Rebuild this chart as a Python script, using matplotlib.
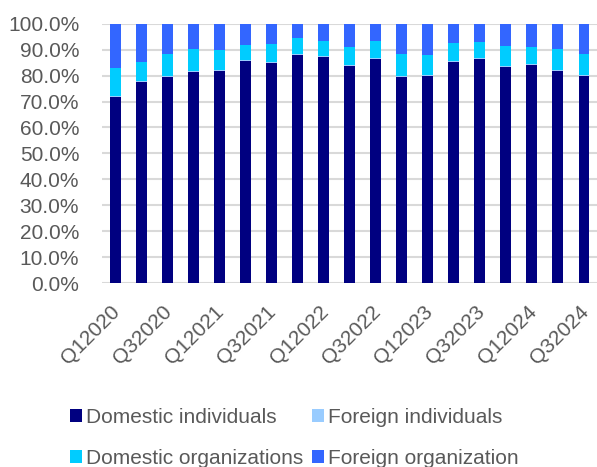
import matplotlib.pyplot as plt
from matplotlib.transforms import ScaledTranslation
import numpy as np

plt.rcParams['font.family'] = ['Liberation Sans', 'DejaVu Sans']

quarters = ['Q12020', 'Q22020', 'Q32020', 'Q42020', 'Q12021', 'Q22021', 'Q32021',
            'Q42021', 'Q12022', 'Q22022', 'Q32022', 'Q42022', 'Q12023', 'Q22023',
            'Q32023', 'Q42023', 'Q12024', 'Q22024', 'Q32024']

# shares in %
domestic_ind = [71.8, 77.4, 79.3, 81.4, 81.7, 85.8, 84.9, 88.0, 87.1, 83.7,
                86.6, 79.3, 79.8, 85.1, 86.3, 83.5, 84.0, 81.8, 79.8]
foreign_ind = [0.5, 0.4, 0.4, 0.4, 0.4, 0.3, 0.4, 0.4, 0.3, 0.4,
               0.3, 0.4, 0.4, 0.4, 0.4, 0.4, 0.4, 0.4, 0.4]
domestic_org = [10.5, 7.3, 8.7, 8.5, 7.8, 5.9, 6.9, 6.0, 6.0, 7.1,
                6.5, 8.7, 7.8, 7.0, 6.2, 7.7, 6.8, 8.0, 8.2]
foreign_org = [100 - a - b - c for a, b, c in zip(domestic_ind, foreign_ind, domestic_org)]

colors = ['#000080', '#99CCFF', '#00CCFF', '#3366FF']
labels = ['Domestic individuals', 'Foreign individuals',
          'Domestic organizations', 'Foreign organization']

fig = plt.figure(figsize=(5.97, 4.67), dpi=100)
ax = fig.add_axes([0.171, 0.394, 0.829, 0.555])

x = np.arange(len(quarters))
bottom = np.zeros(len(quarters))
bars = []
for vals, col, lab in zip([domestic_ind, foreign_ind, domestic_org, foreign_org], colors, labels):
    bars.append(ax.bar(x, vals, bottom=bottom, width=0.42, color=col, label=lab, zorder=3))
    bottom += np.array(vals)

ax.set_ylim(0, 100)
ax.set_xlim(-0.5, len(quarters) - 0.5)
ax.set_yticks(np.arange(0, 101, 10))
ax.set_yticklabels(['{:.1f}%'.format(v) for v in np.arange(0, 101, 10)])
ax.set_xticks(x[::2])
ax.set_xticklabels(quarters[::2], rotation=45, ha='right', rotation_mode='anchor')
ax.grid(axis='y', color='#D9D9D9', linewidth=1.5, zorder=0)
for s in ax.spines.values():
    s.set_visible(False)
ax.tick_params(length=0, labelsize=15, colors='#595959')
ax.tick_params(axis='x', pad=14)
ax.tick_params(axis='y', pad=16.5)
# nudge rotated labels a little to the left
shift = ScaledTranslation(-0.05, 0, fig.dpi_scale_trans)
for lbl in ax.get_xticklabels():
    lbl.set_transform(lbl.get_transform() + shift)

# row-major legend order
order = [0, 2, 1, 3]
ax.legend([bars[i] for i in order], [labels[i] for i in order],
          loc='upper left', bbox_to_anchor=(0.117, 0.126), bbox_transform=fig.transFigure,
          ncol=2, frameon=False, fontsize=15, labelcolor='#595959',
          handlelength=0.58, handleheight=0.58, handletextpad=0.2,
          columnspacing=0.4, labelspacing=1.05, borderpad=0, borderaxespad=0)

plt.savefig('out.png')
